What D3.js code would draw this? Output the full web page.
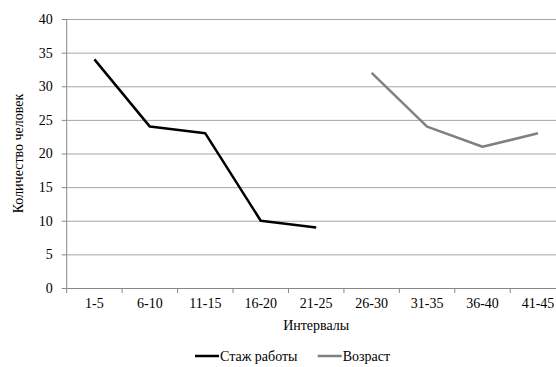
<html>
<head>
  <script src="https://d3js.org/d3.v7.min.js"></script>
  <style>
    body { margin: 0; background: #fff; }
    .gridlines line { stroke: #a6a6a6; }
    .gridlines .domain { stroke: none; }
  </style>
</head>
<body>
  <svg id="chart" width="556" height="367"></svg>
  <script>
    // data
    const categories = ["1-5", "6-10", "11-15", "16-20", "21-25", "26-30", "31-35", "36-40", "41-45"];
    const stazh = [34, 24, 23, 10, 9, null, null, null, null];
    const vozrast = [null, null, null, null, null, 32, 24, 21, 23];
    const seriesNames = ["Стаж работы", "Возраст"];
    const seriesColors = ["#000000", "#808080"];
    const yTicks = [0, 5, 10, 15, 20, 25, 30, 35, 40];

    const FONT = "'Liberation Serif', 'Times New Roman', serif";
    const FS = 14;
    const svg = d3.select("#chart");
    const margin = { top: 19, left: 66.7, bottom: 288, right: 565.7 };

    const xScale = d3.scaleBand().domain(categories).range([margin.left, margin.right]);
    const yScale = d3.scaleLinear().domain([0, 40]).range([margin.bottom, margin.top]);

    // horizontal gridlines
    const yGrid = d3.axisLeft(yScale).tickValues(yTicks.slice(1)).tickSize(-(margin.right - margin.left)).tickFormat("");
    svg.append("g").attr("class", "gridlines")
       .attr("transform", "translate(" + margin.left + ",0)")
       .call(yGrid);

    // y axis
    const yAxis = d3.axisLeft(yScale).tickValues(yTicks).tickSize(5).tickPadding(9);
    const yG = svg.append("g").attr("transform", "translate(" + margin.left + ",0)").call(yAxis)
                  .attr("font-family", FONT).attr("font-size", FS);
    yG.select(".domain").attr("stroke", "#888").attr("d", "M0," + margin.top + "V" + margin.bottom);
    yG.selectAll(".tick line").attr("stroke", "#888");
    yG.selectAll("text").attr("fill", "#000");

    // x axis with ticks between categories
    const xAxis = d3.axisBottom(xScale).tickSize(0).tickPadding(10);
    const xG = svg.append("g").attr("transform", "translate(0," + margin.bottom + ")").call(xAxis)
                  .attr("font-family", FONT).attr("font-size", FS);
    xG.select(".domain").attr("stroke", "#888");
    xG.selectAll("text").attr("fill", "#000");
    xG.selectAll(".sep").data(categories).join("line").attr("class", "sep")
      .attr("x1", d => xScale(d)).attr("x2", d => xScale(d))
      .attr("y1", 0).attr("y2", 5).attr("stroke", "#888");

    // axis titles
    svg.append("text").attr("x", (margin.left + margin.right) / 2).attr("y", 330)
       .attr("text-anchor", "middle").attr("font-family", FONT).attr("font-size", FS).text("Интервалы");
    svg.append("text").attr("transform", "translate(23," + ((margin.top + margin.bottom) / 2) + ") rotate(-90)")
       .attr("text-anchor", "middle").attr("font-family", FONT).attr("font-size", FS).text("Количество человек");

    // lines
    const line = d3.line()
      .defined(d => d.v !== null)
      .x(d => xScale(d.c) + xScale.bandwidth() / 2)
      .y(d => yScale(d.v));

    [stazh, vozrast].forEach((vals, i) => {
      const pts = categories.map((c, j) => ({ c: c, v: vals[j] }));
      svg.append("path").datum(pts)
         .attr("d", line)
         .attr("fill", "none")
         .attr("stroke", seriesColors[i])
         .attr("stroke-width", 2.5)
         .attr("stroke-linejoin", "round");
    });

    // legend
    const legendX = [195, 317.7];
    const legend = svg.append("g").attr("font-family", FONT).attr("font-size", FS);
    seriesNames.forEach((name, i) => {
      legend.append("line").attr("x1", legendX[i]).attr("x2", legendX[i] + 24)
            .attr("y1", 356).attr("y2", 356)
            .attr("stroke", seriesColors[i]).attr("stroke-width", 2.5);
      legend.append("text").attr("x", legendX[i] + 25).attr("y", 361)
            .text(name);
    });
  </script>
</body>
</html>
